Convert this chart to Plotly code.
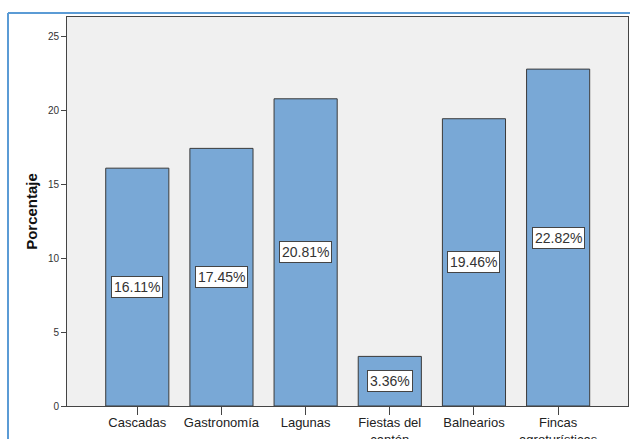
import plotly.graph_objects as go

categories = ["Cascadas", "Gastronomía", "Lagunas", "Fiestas del<br>cantón", "Balnearios", "Fincas<br>agroturísticas"]
values = [16.11, 17.45, 20.81, 3.36, 19.46, 22.82]
labels = ["16.11%", "17.45%", "20.81%", "3.36%", "19.46%", "22.82%"]
y_ticks = [0, 5, 10, 15, 20, 25]

W, H = 630, 439
L, R, T, B = 67, 2, 17, 33
pw, ph = W - L - R, H - T - B

fig = go.Figure()
fig.add_trace(go.Bar(
    x=list(range(len(categories))), y=values, width=0.75,
    marker=dict(color="#79a8d6", line=dict(color="#3a3a3a", width=1)),
    hoverinfo="skip",
))

for i, (v, t) in enumerate(zip(values, labels)):
    fig.add_annotation(x=i, y=v / 2, text=t, showarrow=False,
                       font=dict(family="Liberation Sans, Arial", size=14, color="#333"),
                       bgcolor="white", bordercolor="#444", borderwidth=1, borderpad=2)

# outer blue frame (left and top edges)
x0 = (8 - L) / pw
y0 = 1 + (T - 13) / ph
fig.add_shape(type="line", xref="paper", yref="paper", x0=x0, x1=x0, y0=y0, y1=-0.2,
              line=dict(color="#5b9bd5", width=2))
fig.add_shape(type="line", xref="paper", yref="paper", x0=x0, x1=1.05, y0=y0, y1=y0,
              line=dict(color="#5b9bd5", width=2))

fig.update_layout(
    width=W, height=H,
    margin=dict(l=L, r=R, t=T, b=B, autoexpand=False),
    paper_bgcolor="white", plot_bgcolor="#f0f0f0",
    showlegend=False,
    font=dict(family="Liberation Sans, Arial", color="#222"),
    xaxis=dict(
        tickmode="array", tickvals=list(range(len(categories))), ticktext=categories,
        range=[-0.835, 5.83], showgrid=False, zeroline=False, automargin=False,
        showline=True, linecolor="#444", linewidth=1, mirror=True,
        ticks="outside", ticklen=8, tickcolor="#444", ticklabelstandoff=-4,
        tickfont=dict(size=13, color="#222"),
    ),
    yaxis=dict(
        range=[0, 26.35], tickvals=y_ticks, showgrid=False, zeroline=False, automargin=False,
        showline=True, linecolor="#444", linewidth=1, mirror=True,
        ticks="outside", ticklen=5, tickcolor="#444",
        tickfont=dict(size=10, color="#333"),
        title=dict(text="<b>Porcentaje</b>", font=dict(size=15, color="#111"), standoff=6),
    ),
)

fig.write_html("out.html", config={"displayModeBar": False},
               post_script="document.body.style.margin='0';document.body.style.overflow='hidden';")
